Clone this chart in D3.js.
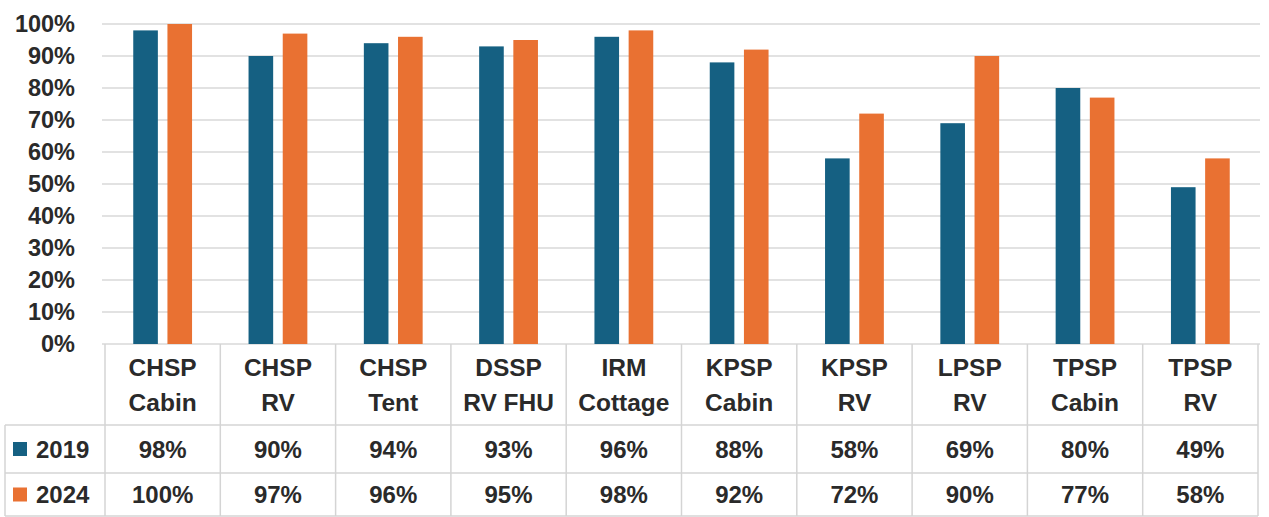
<!DOCTYPE html>
<html>
<head>
<meta charset="utf-8">
<script src="https://cdn.jsdelivr.net/npm/d3@7"></script>
<style>
  body { margin: 0; background: #fff; }
  svg text { font-family: "Liberation Sans", Arial, sans-serif; font-weight: bold; fill: #2a2a2a; }
</style>
</head>
<body>
<svg id="chart" width="1269" height="517"></svg>
<script>
// chart data
var categories = ["CHSP|Cabin", "CHSP|RV", "CHSP|Tent", "DSSP|RV FHU", "IRM|Cottage",
                  "KPSP|Cabin", "KPSP|RV", "LPSP|RV", "TPSP|Cabin", "TPSP|RV"];
var seriesNames = ["2019", "2024"];
var values2019 = [98, 90, 94, 93, 96, 88, 58, 69, 80, 49];
var values2024 = [100, 97, 96, 95, 98, 92, 72, 90, 77, 58];
var yTicks = [0, 10, 20, 30, 40, 50, 60, 70, 80, 90, 100];

var colors = {"2019": "#156082", "2024": "#e97132"};
var seriesValues = {"2019": values2019, "2024": values2024};

var svg = d3.select("#chart");

var plotLeft = 105, plotRight = 1258,
    plotTop = 24, plotBottom = 344,
    headerBottom = 425, row1Bottom = 473, tableBottom = 516,
    tableLeft = 5;

var x0 = d3.scaleBand().domain(categories).range([plotLeft, plotRight]).padding(0);
var x1 = d3.scaleBand().domain(seriesNames)
    .range([x0.bandwidth() * 0.245, x0.bandwidth() * 0.755])
    .paddingInner(0.28);
var y = d3.scaleLinear().domain([0, 100]).range([plotBottom, plotTop]);

// gridlines
svg.append("g").selectAll("line")
    .data(yTicks)
    .enter().append("line")
    .attr("x1", plotLeft - 3)
    .attr("x2", plotRight + 2)
    .attr("y1", function(d) { return y(d); })
    .attr("y2", function(d) { return y(d); })
    .attr("stroke", "#d9d9d9")
    .attr("stroke-width", 1.5);

// y axis labels
svg.append("g").selectAll("text")
    .data(yTicks)
    .enter().append("text")
    .attr("x", 75)
    .attr("y", function(d) { return y(d); })
    .attr("dy", "0.36em")
    .attr("text-anchor", "end")
    .attr("font-size", 23.5)
    .text(function(d) { return d + "%"; });

// bars
var groups = svg.append("g").selectAll("g")
    .data(categories)
    .enter().append("g")
    .attr("transform", function(d) { return "translate(" + x0(d) + ",0)"; });

groups.selectAll("rect")
    .data(function(d, i) {
        return seriesNames.map(function(s) { return {series: s, value: seriesValues[s][i]}; });
    })
    .enter().append("rect")
    .attr("x", function(d) { return x1(d.series); })
    .attr("y", function(d) { return y(d.value); })
    .attr("width", x1.bandwidth())
    .attr("height", function(d) { return plotBottom - y(d.value); })
    .attr("fill", function(d) { return colors[d.series]; });

// data table grid
var grid = svg.append("g").attr("stroke", "#d4d4d4").attr("stroke-width", 1.5);
var edges = categories.map(function(c) { return x0(c); }).concat([plotRight]);
edges.forEach(function(xv) {
    grid.append("line").attr("x1", xv).attr("x2", xv)
        .attr("y1", plotBottom).attr("y2", tableBottom);
});
grid.append("line").attr("x1", tableLeft).attr("x2", tableLeft)
    .attr("y1", headerBottom).attr("y2", tableBottom);
[headerBottom, row1Bottom, tableBottom].forEach(function(yv) {
    grid.append("line").attr("x1", tableLeft).attr("x2", plotRight)
        .attr("y1", yv).attr("y2", yv);
});

// category labels
var cx = function(c) { return x0(c) + x0.bandwidth() / 2; };
var head = svg.append("g").selectAll("text")
    .data(categories)
    .enter().append("text")
    .attr("x", cx)
    .attr("text-anchor", "middle")
    .attr("font-size", 24.5);
head.append("tspan").attr("x", cx).attr("y", 376)
    .text(function(d) { return d.split("|")[0]; });
head.append("tspan").attr("x", cx).attr("y", 411)
    .text(function(d) { return d.split("|")[1]; });

// value rows with legend keys
var rowMid = {"2019": (headerBottom + row1Bottom) / 2, "2024": (row1Bottom + tableBottom) / 2};
seriesNames.forEach(function(s) {
    var row = svg.append("g");
    row.append("rect")
        .attr("x", 13).attr("y", rowMid[s] - 7)
        .attr("width", 14).attr("height", 14)
        .attr("fill", colors[s]);
    row.append("text")
        .attr("x", 36).attr("y", rowMid[s]).attr("dy", "0.36em")
        .attr("font-size", 24)
        .text(s);
    row.selectAll("text.val")
        .data(seriesValues[s])
        .enter().append("text")
        .attr("class", "val")
        .attr("x", function(d, i) { return cx(categories[i]); })
        .attr("y", rowMid[s]).attr("dy", "0.36em")
        .attr("text-anchor", "middle")
        .attr("font-size", 24)
        .text(function(d) { return d + "%"; });
});
</script>
</body>
</html>
